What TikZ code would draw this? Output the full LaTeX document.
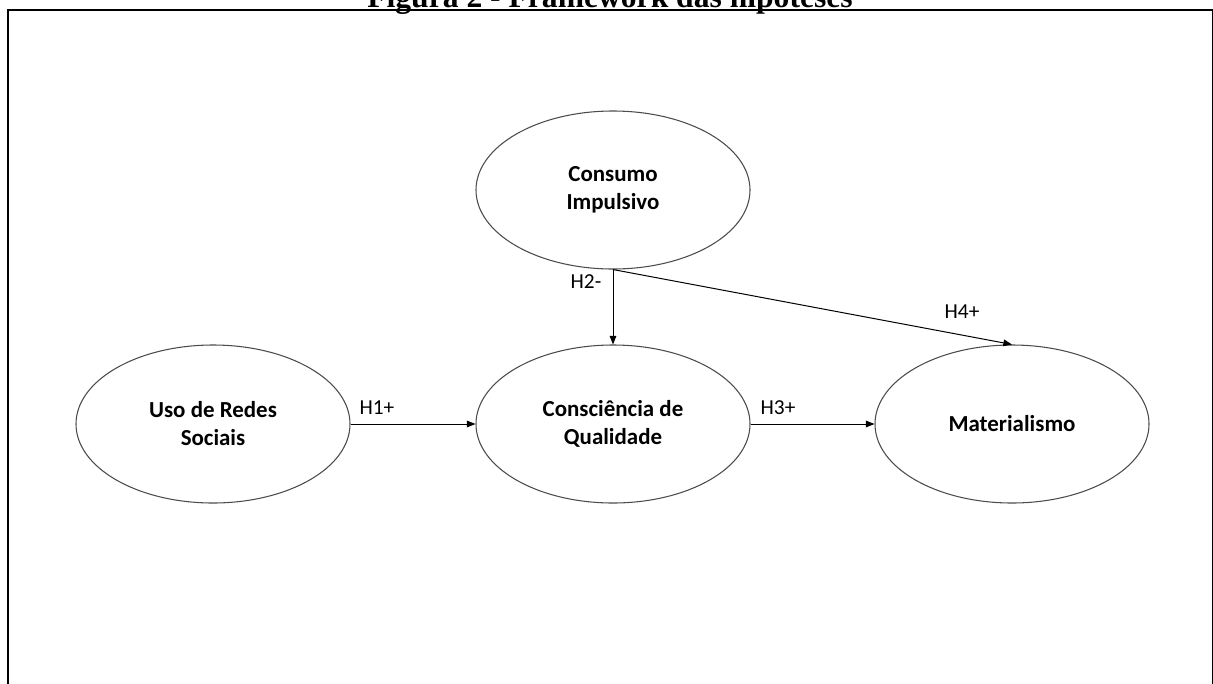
\documentclass[tikz,border=0pt]{standalone}
\usepackage{fontspec}
\setmainfont{Carlito}
\newfontfamily\titlefont{Liberation Serif}
\usetikzlibrary{shapes.geometric,arrows.meta}
\begin{document}
\begin{tikzpicture}[x=0.75pt,y=-0.75pt,
  construct/.style={draw=black!70,line width=0.8pt,ellipse,minimum width=274*0.75pt,minimum height=158*0.75pt,inner sep=0pt,
    font=\fontsize{17.2}{21}\selectfont\bfseries,align=center},
  hyp/.style={font=\fontsize{16}{19}\selectfont,inner sep=0pt},
  link/.style={draw=black,line width=0.75pt,-{Triangle[length=6.5pt,width=5pt]}}]
\useasboundingbox (0,0) rectangle (1213,683);
\node[anchor=base,font=\titlefont\fontsize{23.7}{28}\selectfont\bfseries,inner sep=0pt] (title) at (610,7) {Figura 2 - Framework das hipóteses};
\draw[line width=1.5pt] (7.5,720) -- (7.5,10) -- (1212.5,10) -- (1212.5,720);
\node[construct] (ci) at (613,190) {Consumo\\Impulsivo};
\node[construct] (urs) at (213,424) {Uso de Redes\\Sociais};
\node[construct] (cq) at (613,424) {Consciência de\\Qualidade};
\node[construct] (mat) at (1012,424) {Materialismo};
\draw[link] (ci.south) -- (cq.north);
\draw[link] (ci.south) -- (mat.north);
\draw[link] (urs.east) -- (cq.west);
\draw[link] (cq.east) -- (mat.west);
\node[hyp] (h2) at (586,282) {H2-};
\node[hyp] (h4) at (962,312) {H4+};
\node[hyp] (h1) at (377,408) {H1+};
\node[hyp] (h3) at (778,408) {H3+};
\end{tikzpicture}
\end{document}
